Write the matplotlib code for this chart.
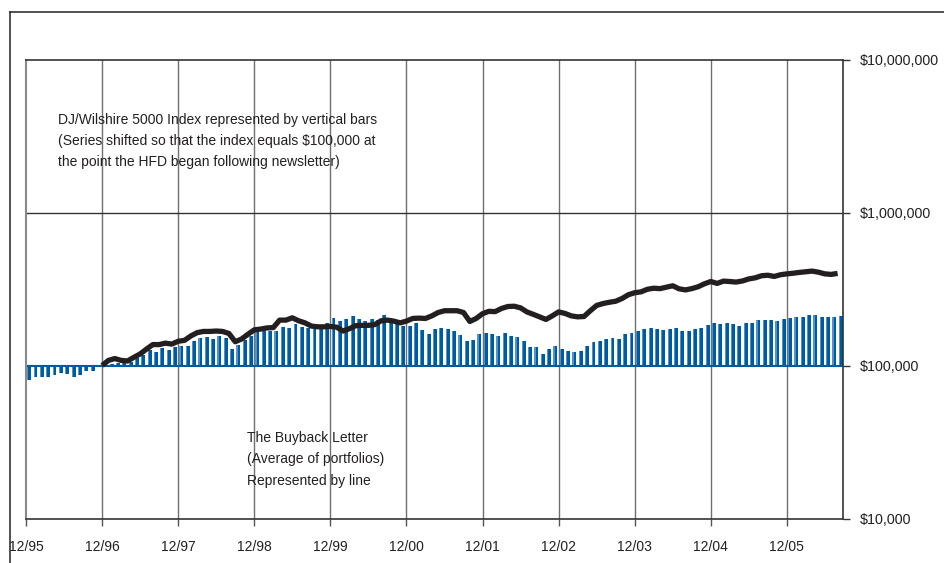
import numpy as np
import matplotlib
matplotlib.use("Agg")
import matplotlib.pyplot as plt
from matplotlib.lines import Line2D
from matplotlib.ticker import FixedLocator, NullLocator

plt.rcParams['font.family'] = ['Liberation Sans', 'DejaVu Sans']

# ---- data (values in $) ----
# DJ/Wilshire 5000 monthly values, Jan 1996 .. Sep 2006 (shifted: 12/96 = $100,000)
wilshire_k = [
    80.6, 83.9, 83.9, 84.7, 87.3, 89.1, 88.3, 83.9, 87.3, 91.4, 92.7, 101.5,   # 1996
    101.5, 102.5, 104, 104, 106, 112, 118, 127, 123, 130, 127, 132,            # 1997
    134, 134, 145, 152, 154, 149, 156, 152, 128, 136, 146, 156,                # 1998
    165, 168, 167, 168, 179, 176, 186, 179, 177, 173, 172, 190,                # 1999
    203, 196, 200, 212, 201, 194, 202, 198, 213, 202, 193, 182,                # 2000
    181, 190, 170, 160, 172, 175, 172, 169, 158, 144, 147, 160,                # 2001
    162, 160, 157, 164, 155, 153, 144, 132, 132, 119, 128, 135,                # 2002
    128, 125, 123, 124, 134, 143, 144, 148, 151, 148, 160, 162,                # 2003
    169, 173, 175, 173, 170, 172, 175, 169, 169, 173, 176, 183,                # 2004
    191, 186, 190, 186, 182, 189, 191, 198, 197, 198, 195, 201,                # 2005
    203, 209, 209, 213, 215, 209, 209, 209, 212,                               # 2006
]
# The Buyback Letter (average of portfolios), Dec 1996 .. Aug 2006
buyback_k = [
    100,                                                                        # 12/96
    108, 111, 108, 107, 113, 119, 128, 137, 137, 140, 138, 144,                # 1997
    146, 156, 164, 167, 167, 168, 167, 162, 143, 149, 160, 171,                # 1998
    173, 176, 177, 198, 198, 205, 196, 190, 181, 179, 179, 180,                # 1999
    178, 168, 174, 182, 183, 183, 185, 196, 198, 195, 190, 195,                # 2000
    203, 204, 203, 211, 222, 228, 228, 228, 222, 194, 203, 218,                # 2001
    226, 225, 236, 243, 244, 238, 224, 216, 208, 200, 211, 224,                # 2002
    219, 211, 208, 209, 228, 247, 254, 259, 263, 274, 290, 299,                # 2003
    303, 315, 320, 318, 325, 332, 317, 312, 318, 327, 342, 354,                # 2004
    344, 356, 354, 351, 357, 368, 374, 386, 389, 382, 392, 397,                # 2005
    401, 406, 410, 414, 407, 397, 394, 400,                                    # 2006
]
tick_labels = ['12/95', '12/96', '12/97', '12/98', '12/99', '12/00',
               '12/01', '12/02', '12/03', '12/04', '12/05']
y_ticks = [1e4, 1e5, 1e6, 1e7]
y_labels = ['$10,000', '$100,000', '$1,000,000', '$10,000,000']

wilshire = np.array(wilshire_k) * 1000.0
buyback = np.array(buyback_k) * 1000.0
bar_month = np.arange(1, len(wilshire) + 1)          # months after 12/95
line_month = np.arange(12, 12 + len(buyback))        # starting at 12/96
tick_pos = np.arange(len(tick_labels)) * 12

W, H = 945, 563
fig = plt.figure(figsize=(W / 100, H / 100), dpi=100)
L, R, T, B = 26, 843.3, 59.5, 518.5
ax = fig.add_axes([L / W, 1 - B / H, (R - L) / W, (B - T) / H])
ax.set_yscale('log')
ax.set_ylim(1e4, 1e7)
ax.set_xlim(0, 128.9)

dark_blue = '#005a9e'
light_blue = '#4f93cf'
base = 1e5
bw = 0.62
ax.bar(bar_month - 0.5, wilshire - base, bottom=base, width=bw,
       color=dark_blue, linewidth=0, zorder=2)
ax.bar(bar_month - 0.5 - bw / 2 + 0.09, wilshire - base, bottom=base, width=0.18,
       color=light_blue, linewidth=0, zorder=2.1)
ax.axhline(base, color=dark_blue, lw=1.5, zorder=2.5)

ax.plot(line_month, buyback, color='#231f20', lw=3.8, solid_joinstyle='round',
        solid_capstyle='butt', zorder=4)

# grid
for xp in tick_pos[1:]:
    ax.axvline(xp, color='#707070', lw=1.0, zorder=1)
ax.axhline(1e6, color='#333333', lw=1.0, zorder=1)

# spines
for s in ['top', 'right', 'bottom']:
    ax.spines[s].set_color('#333333')
    ax.spines[s].set_linewidth(1.2)
ax.spines['left'].set_color('#8a8a8a')
ax.spines['left'].set_linewidth(1.5)

# axes ticks
ax.xaxis.set_major_locator(FixedLocator(tick_pos))
ax.set_xticklabels(tick_labels)
ax.xaxis.set_minor_locator(NullLocator())
ax.tick_params(axis='x', direction='out', length=5, width=1, color='#555555',
               pad=10.5, labelsize=10, labelcolor='#231f20')
for lab in ax.get_xticklabels():
    lab.set_x(lab.get_position()[0])
ax.yaxis.tick_right()
ax.yaxis.set_major_locator(FixedLocator(y_ticks))
ax.yaxis.set_minor_locator(NullLocator())
ax.set_yticklabels(y_labels)
ax.tick_params(axis='y', which='both', direction='out', length=5, width=1,
               color='#333333', pad=7, labelsize=10.3, labelcolor='#231f20')

# annotations
txt_kw = dict(ha='left', va='center', fontsize=10, color='#231f20')
for k, s in enumerate(["DJ/Wilshire 5000 Index represented by vertical bars",
                       "(Series shifted so that the index equals $100,000 at",
                       "the point the HFD began following newsletter)"]):
    fig.text(58 / W, 1 - (120 + 21 * k) / H, s, **txt_kw)
for k, s in enumerate(["The Buyback Letter",
                       "(Average of portfolios)",
                       "Represented by line"]):
    fig.text(247 / W, 1 - (438 + 21.5 * k) / H, s, **txt_kw)

# outer frame (left and top)
fig.add_artist(Line2D([10 / W, 10 / W], [0, 1 - 12 / H], color='#333333', lw=1.2))
fig.add_artist(Line2D([10 / W, 1], [1 - 12 / H, 1 - 12 / H], color='#333333', lw=1.2))

fig.savefig('out.png', dpi=100)
